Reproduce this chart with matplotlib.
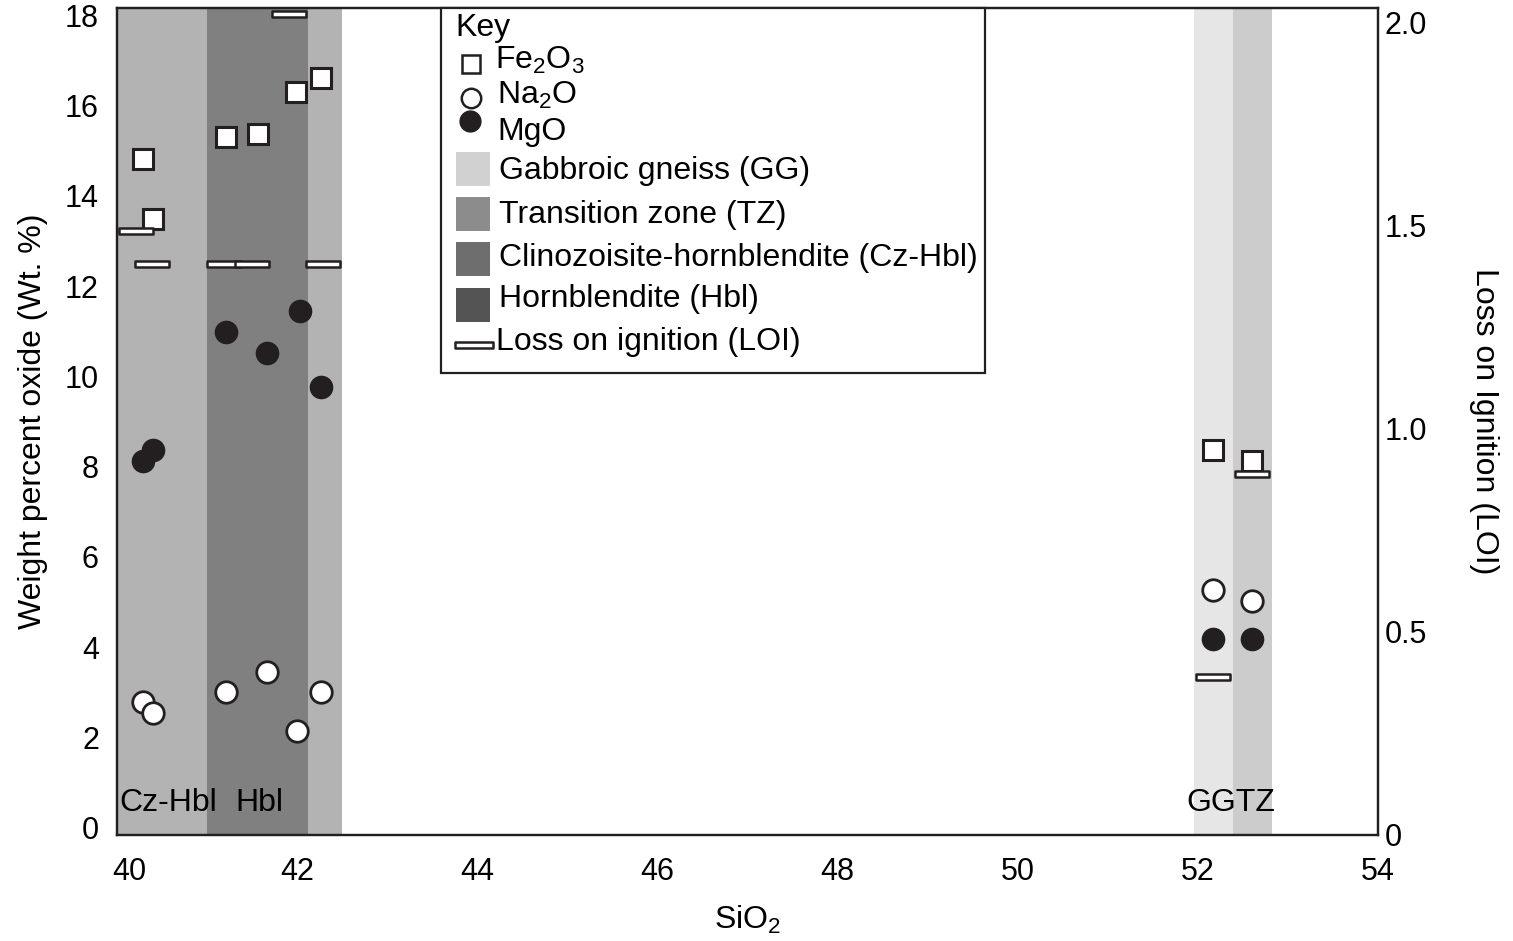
import matplotlib
matplotlib.use("Agg")
import matplotlib.pyplot as plt
from matplotlib.path import Path
from matplotlib.lines import Line2D
from matplotlib.patches import Rectangle
from matplotlib.transforms import ScaledTranslation

plt.rcParams['font.family'] = ['Liberation Sans', 'DejaVu Sans']
plt.rcParams['mathtext.fontset'] = 'custom'
plt.rcParams['mathtext.rm'] = 'Liberation Sans'
plt.rcParams['mathtext.default'] = 'regular'

# ---------------- data ----------------
fe2o3_x = [40.285, 40.404, 41.21, 41.567, 41.99, 42.26, 52.17, 52.6]
fe2o3_y = [14.81, 13.48, 15.29, 15.36, 16.29, 16.60, 8.37, 8.13]
na2o_x = [40.285, 40.404, 41.21, 41.66, 42.0, 42.26, 52.17, 52.6]
na2o_y = [2.78, 2.55, 3.00, 3.46, 2.15, 3.00, 5.27, 5.03]
mgo_x = [40.285, 40.404, 41.21, 41.66, 42.03, 42.26, 52.17, 52.6]
mgo_y = [8.12, 8.37, 10.98, 10.52, 11.44, 9.76, 4.18, 4.18]
loi_x = [40.21, 40.39, 41.19, 41.5, 41.91, 42.29, 52.17, 52.6]
loi_y = [1.486, 1.405, 1.405, 1.405, 2.02, 1.405, 0.388, 0.888]

# zone bands: (start SiO2, end SiO2, colour)
band_start = [40.0, 41.0, 42.12, 51.96, 52.39]
band_end = [41.0, 42.12, 42.5, 52.39, 52.82]
band_color = ['#b3b3b3', '#808080', '#b3b3b3', '#e6e6e6', '#cccccc']

zone_labels = ['Cz-Hbl', 'Hbl', 'GGTZ']
zone_label_x = [40.03, 41.31, 51.87]

key_labels = ['Gabbroic gneiss (GG)', 'Transition zone (TZ)',
              'Clinozoisite-hornblendite (Cz-Hbl)', 'Hornblendite (Hbl)']
key_colors = ['#d1d1d1', '#8c8c8c', '#6e6e6e', '#545454']

left_ticks = [0, 2, 4, 6, 8, 10, 12, 14, 16, 18]
right_ticks = [0, 0.5, 1.0, 1.5, 2.0]
right_tick_labels = ['0', '0.5', '1.0', '1.5', '2.0']
x_ticks = [40, 42, 44, 46, 48, 50, 52, 54]

# ---------------- figure ----------------
W, H = 1513, 941
fig = plt.figure(figsize=(W / 100, H / 100), dpi=100)
ax = fig.add_axes([117 / W, 1 - 835 / H, (1378 - 117) / W, (835 - 8) / H])
ax2 = ax.twinx()

DARK = '#231f20'
FS = 23
TFS = 22

for s, e, c in zip(band_start, band_end, band_color):
    ax.axvspan(s, e, color=c, lw=0, zorder=0)

ax.plot(fe2o3_x, fe2o3_y, ls='none', marker='s', ms=14.5, mfc='white',
        mec=DARK, mew=2.2, zorder=3)
ax.plot(na2o_x, na2o_y, ls='none', marker='o', ms=15.5, mfc='white',
        mec=DARK, mew=2.0, zorder=3)
ax.plot(mgo_x, mgo_y, ls='none', marker='o', ms=16, mfc=DARK,
        mec=DARK, mew=1.0, zorder=3)

bar_path = Path([(-1, -0.17), (1, -0.17), (1, 0.17), (-1, 0.17), (-1, -0.17)],
                [Path.MOVETO, Path.LINETO, Path.LINETO, Path.LINETO, Path.CLOSEPOLY])
ax2.plot(loi_x, loi_y, ls='none', marker=bar_path, ms=25, mfc='white',
         mec=DARK, mew=1.8, zorder=3, clip_on=False)

for lab, lx in zip(zone_labels, zone_label_x):
    ax.text(lx, 0.55, lab, fontsize=FS, ha='left', va='center', color='black')

ax.set_xlim(40, 54)
ax.set_ylim(-0.155, 18.155)
ax2.set_ylim(0, 2.0345)
ax.set_xticks(x_ticks)
ax.set_yticks(left_ticks)
ax2.set_yticks(right_ticks)
ax2.set_yticklabels(right_tick_labels)

ax.tick_params(axis='x', length=0, pad=16, labelsize=TFS)
ax.tick_params(axis='y', length=0, pad=13, labelsize=TFS)
ax2.tick_params(axis='y', length=0, pad=5, labelsize=TFS)

# first x tick label sits slightly right of its tick in the reference
first = ax.get_xticklabels()[0]
first.set_transform(first.get_transform() + ScaledTranslation(12 / 100, 0, fig.dpi_scale_trans))

for a in (ax, ax2):
    for sp in a.spines.values():
        sp.set_linewidth(1.6)
        sp.set_color(DARK)

ax.set_xlabel('SiO$_2$', fontsize=FS, labelpad=12)
ax.set_ylabel('Weight percent oxide (Wt. %)', fontsize=FS, labelpad=12)
ax2.set_ylabel('Loss on Ignition (LOI)', fontsize=FS, rotation=270,
               va='bottom', labelpad=30)


# ---------------- key (legend box) ----------------
def fx(x):
    return x / W


def fy(y):
    return 1 - y / H


fig.add_artist(Rectangle((fx(441), fy(373)), fx(985) - fx(441), fy(8) - fy(373),
                         transform=fig.transFigure, facecolor='white',
                         edgecolor=DARK, lw=1.6, zorder=10))
fig.text(fx(455), fy(28), 'Key', fontsize=FS, ha='left', va='center', zorder=11)

fig.add_artist(Line2D([fx(471)], [fy(64)], transform=fig.transFigure, ls='none',
                      marker='s', ms=13, mfc='white', mec=DARK, mew=1.8, zorder=11))
fig.text(fx(495), fy(60), 'Fe$_2$O$_3$', fontsize=FS, ha='left', va='center', zorder=11)
fig.add_artist(Line2D([fx(471)], [fy(98)], transform=fig.transFigure, ls='none',
                      marker='o', ms=14, mfc='white', mec=DARK, mew=1.8, zorder=11))
fig.text(fx(497), fy(95), 'Na$_2$O', fontsize=FS, ha='left', va='center', zorder=11)
fig.add_artist(Line2D([fx(470)], [fy(121)], transform=fig.transFigure, ls='none',
                      marker='o', ms=15, mfc=DARK, mec=DARK, mew=1.0, zorder=11))
fig.text(fx(497), fy(132), 'MgO', fontsize=FS, ha='left', va='center', zorder=11)

patch_top = [152, 197, 242, 288]
text_y = [171, 215, 258, 299]
for top, ty, lab, col in zip(patch_top, text_y, key_labels, key_colors):
    fig.add_artist(Rectangle((fx(456), fy(top + 34)), fx(490) - fx(456), fy(top) - fy(top + 34),
                             transform=fig.transFigure, facecolor=col, lw=0, zorder=11))
    fig.text(fx(499), fy(ty), lab, fontsize=FS, ha='left', va='center', zorder=11)

fig.add_artist(Line2D([fx(474)], [fy(345)], transform=fig.transFigure, ls='none',
                      marker=bar_path, ms=27, mfc='white', mec=DARK, mew=1.8, zorder=11))
fig.text(fx(496), fy(342), 'Loss on ignition (LOI)', fontsize=FS, ha='left',
         va='center', zorder=11)

fig.savefig('out.png', dpi=100)
